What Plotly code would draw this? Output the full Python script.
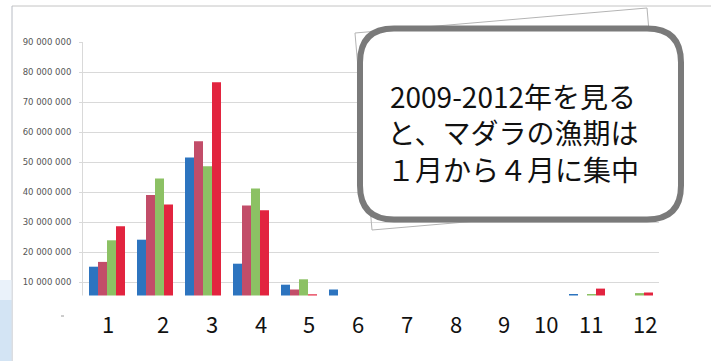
import plotly.graph_objects as go

# Monthly Pacific cod landings (kg), 2009-2012
months = ["1", "2", "3", "4", "5", "6", "7", "8", "9", "10", "11", "12"]
catch_2009 = [15.1e6, 24.1e6, 51.5e6, 16.1e6, 9.1e6, 7.5e6, 2.0e6, 1.0e6, 1.0e6, 1.5e6, 6.0e6, 3.0e6]
catch_2010 = [16.7e6, 39.0e6, 56.9e6, 35.5e6, 7.5e6, 4.0e6, 1.5e6, 0.8e6, 0.8e6, 1.2e6, 4.5e6, 4.0e6]
catch_2011 = [23.9e6, 44.5e6, 48.6e6, 41.2e6, 10.9e6, 3.5e6, 1.5e6, 0.8e6, 0.8e6, 1.5e6, 6.0e6, 6.3e6]
catch_2012 = [28.6e6, 35.8e6, 76.6e6, 33.9e6, 5.9e6, 3.0e6, 1.2e6, 0.6e6, 0.7e6, 1.5e6, 7.8e6, 6.5e6]
years = ["2009", "2010", "2011", "2012"]
ytick_values = [10e6, 20e6, 30e6, 40e6, 50e6, 60e6, 70e6, 80e6, 90e6]

callout_lines = ["2009-2012年を見る", "と、マダラの漁期は", "１月から４月に集中"]

colors = ["#2d74bf", "#c24d69", "#8cc164", "#e2243f"]

W, H = 711, 361
ML, MR, MT, MB = 83, 52, 42, 49
PW, PH = W - ML - MR, H - MT - MB


def xp(px):
    return (px - ML) / PW


def yp(py):
    return (H - MB - py) / PH


fig = go.Figure()
for name, vals, col in zip(years, [catch_2009, catch_2010, catch_2011, catch_2012], colors):
    fig.add_trace(go.Bar(x=months, y=vals, name=name, marker=dict(color=col, line=dict(width=0))))


def fmt(v):
    return f"{int(v):,}".replace(",", " ")


shapes = []
# frame of the pasted chart
shapes.append(dict(type="line", xref="paper", yref="paper", x0=xp(12), x1=xp(711), y0=yp(6), y1=yp(6),
                   line=dict(color="#c4c4c4", width=1), layer="above"))
# white strip covering the bottom of the chart
shapes.append(dict(type="rect", xref="paper", yref="paper", x0=xp(13), x1=xp(712), y0=yp(295.5), y1=yp(362),
                   fillcolor="white", line=dict(width=0), layer="above"))
shapes.append(dict(type="line", xref="paper", yref="paper", x0=xp(12), x1=xp(12), y0=yp(6), y1=yp(362),
                   line=dict(color="#b8bcc4", width=1), layer="above"))
# pale blue edge at the lower left
shapes.append(dict(type="rect", xref="paper", yref="paper", x0=xp(0), x1=xp(11.5), y0=yp(280), y1=yp(300),
                   fillcolor="#eaf2fa", line=dict(width=0), layer="above"))
shapes.append(dict(type="rect", xref="paper", yref="paper", x0=xp(0), x1=xp(11.5), y0=yp(300), y1=yp(362),
                   fillcolor="#d3e4f4", line=dict(width=0), layer="above"))
# small stray mark
shapes.append(dict(type="line", xref="paper", yref="paper", x0=xp(61), x1=xp(64), y0=yp(316), y1=yp(316),
                   line=dict(color="#9a9a9a", width=1), layer="above"))

# tilted card behind the callout
card = [(355, 33), (647, 8), (664, 205), (372, 230)]
path = "M " + " L ".join(f"{xp(a):.5f},{yp(b):.5f}" for a, b in card) + " Z"
shapes.append(dict(type="path", xref="paper", yref="paper", path=path, fillcolor="rgba(255,255,255,0)",
                   line=dict(color="#b4b4b4", width=1), layer="above"))

# rounded callout box
x0, x1, y0, y1, r = 360, 681, 28.5, 219.5, 34


def P(a, b):
    return f"{xp(a):.5f},{yp(b):.5f}"


rpath = (f"M {P(x0 + r, y0)} L {P(x1 - r, y0)} Q {P(x1, y0)} {P(x1, y0 + r)} "
         f"L {P(x1, y1 - r)} Q {P(x1, y1)} {P(x1 - r, y1)} "
         f"L {P(x0 + r, y1)} Q {P(x0, y1)} {P(x0, y1 - r)} "
         f"L {P(x0, y0 + r)} Q {P(x0, y0)} {P(x0 + r, y0)} Z")
shapes.append(dict(type="path", xref="paper", yref="paper", path=rpath, fillcolor="white",
                   line=dict(color="#7a7a7a", width=6), layer="above"))

annotations = []
label_px = [107.7, 163.3, 212.3, 261, 309, 357.7, 407.3, 456, 504.3, 546, 590.7, 645]
for m, px in zip(months, label_px):
    annotations.append(dict(text=m, xref="paper", yref="paper", x=xp(px), y=yp(322.5),
                            xanchor="center", yanchor="middle", showarrow=False,
                            font=dict(family="Noto Sans CJK JP", size=22, color="#111111")))
annotations.append(dict(text="<br>".join(callout_lines), xref="paper", yref="paper", x=xp(513), y=yp(132.5),
                        xanchor="center", yanchor="middle", align="center", showarrow=False,
                        font=dict(family="Noto Sans CJK JP", size=28, color="#111111")))

fig.update_layout(
    width=W, height=H,
    margin=dict(l=ML, r=MR, t=MT, b=MB, pad=0),
    paper_bgcolor="white", plot_bgcolor="white",
    barmode="group", bargap=0.25, bargroupgap=0,
    showlegend=False,
    shapes=shapes, annotations=annotations,
    xaxis=dict(type="category", showticklabels=False, showgrid=False, zeroline=False,
               showline=False, ticks="", automargin=False),
    yaxis=dict(range=[0, 90e6], tickvals=ytick_values, ticktext=[fmt(v) for v in ytick_values],
               showgrid=True, gridcolor="#d9d9d9", gridwidth=1, zeroline=False,
               showline=True, linecolor="#d9d9d9", linewidth=1,
               ticks="outside", ticklen=3, tickcolor="#d9d9d9", ticklabelstandoff=6,
               tickfont=dict(family="DejaVu Sans", size=8.5, color="#555555"), automargin=False),
)

fig.write_html("out.html")
